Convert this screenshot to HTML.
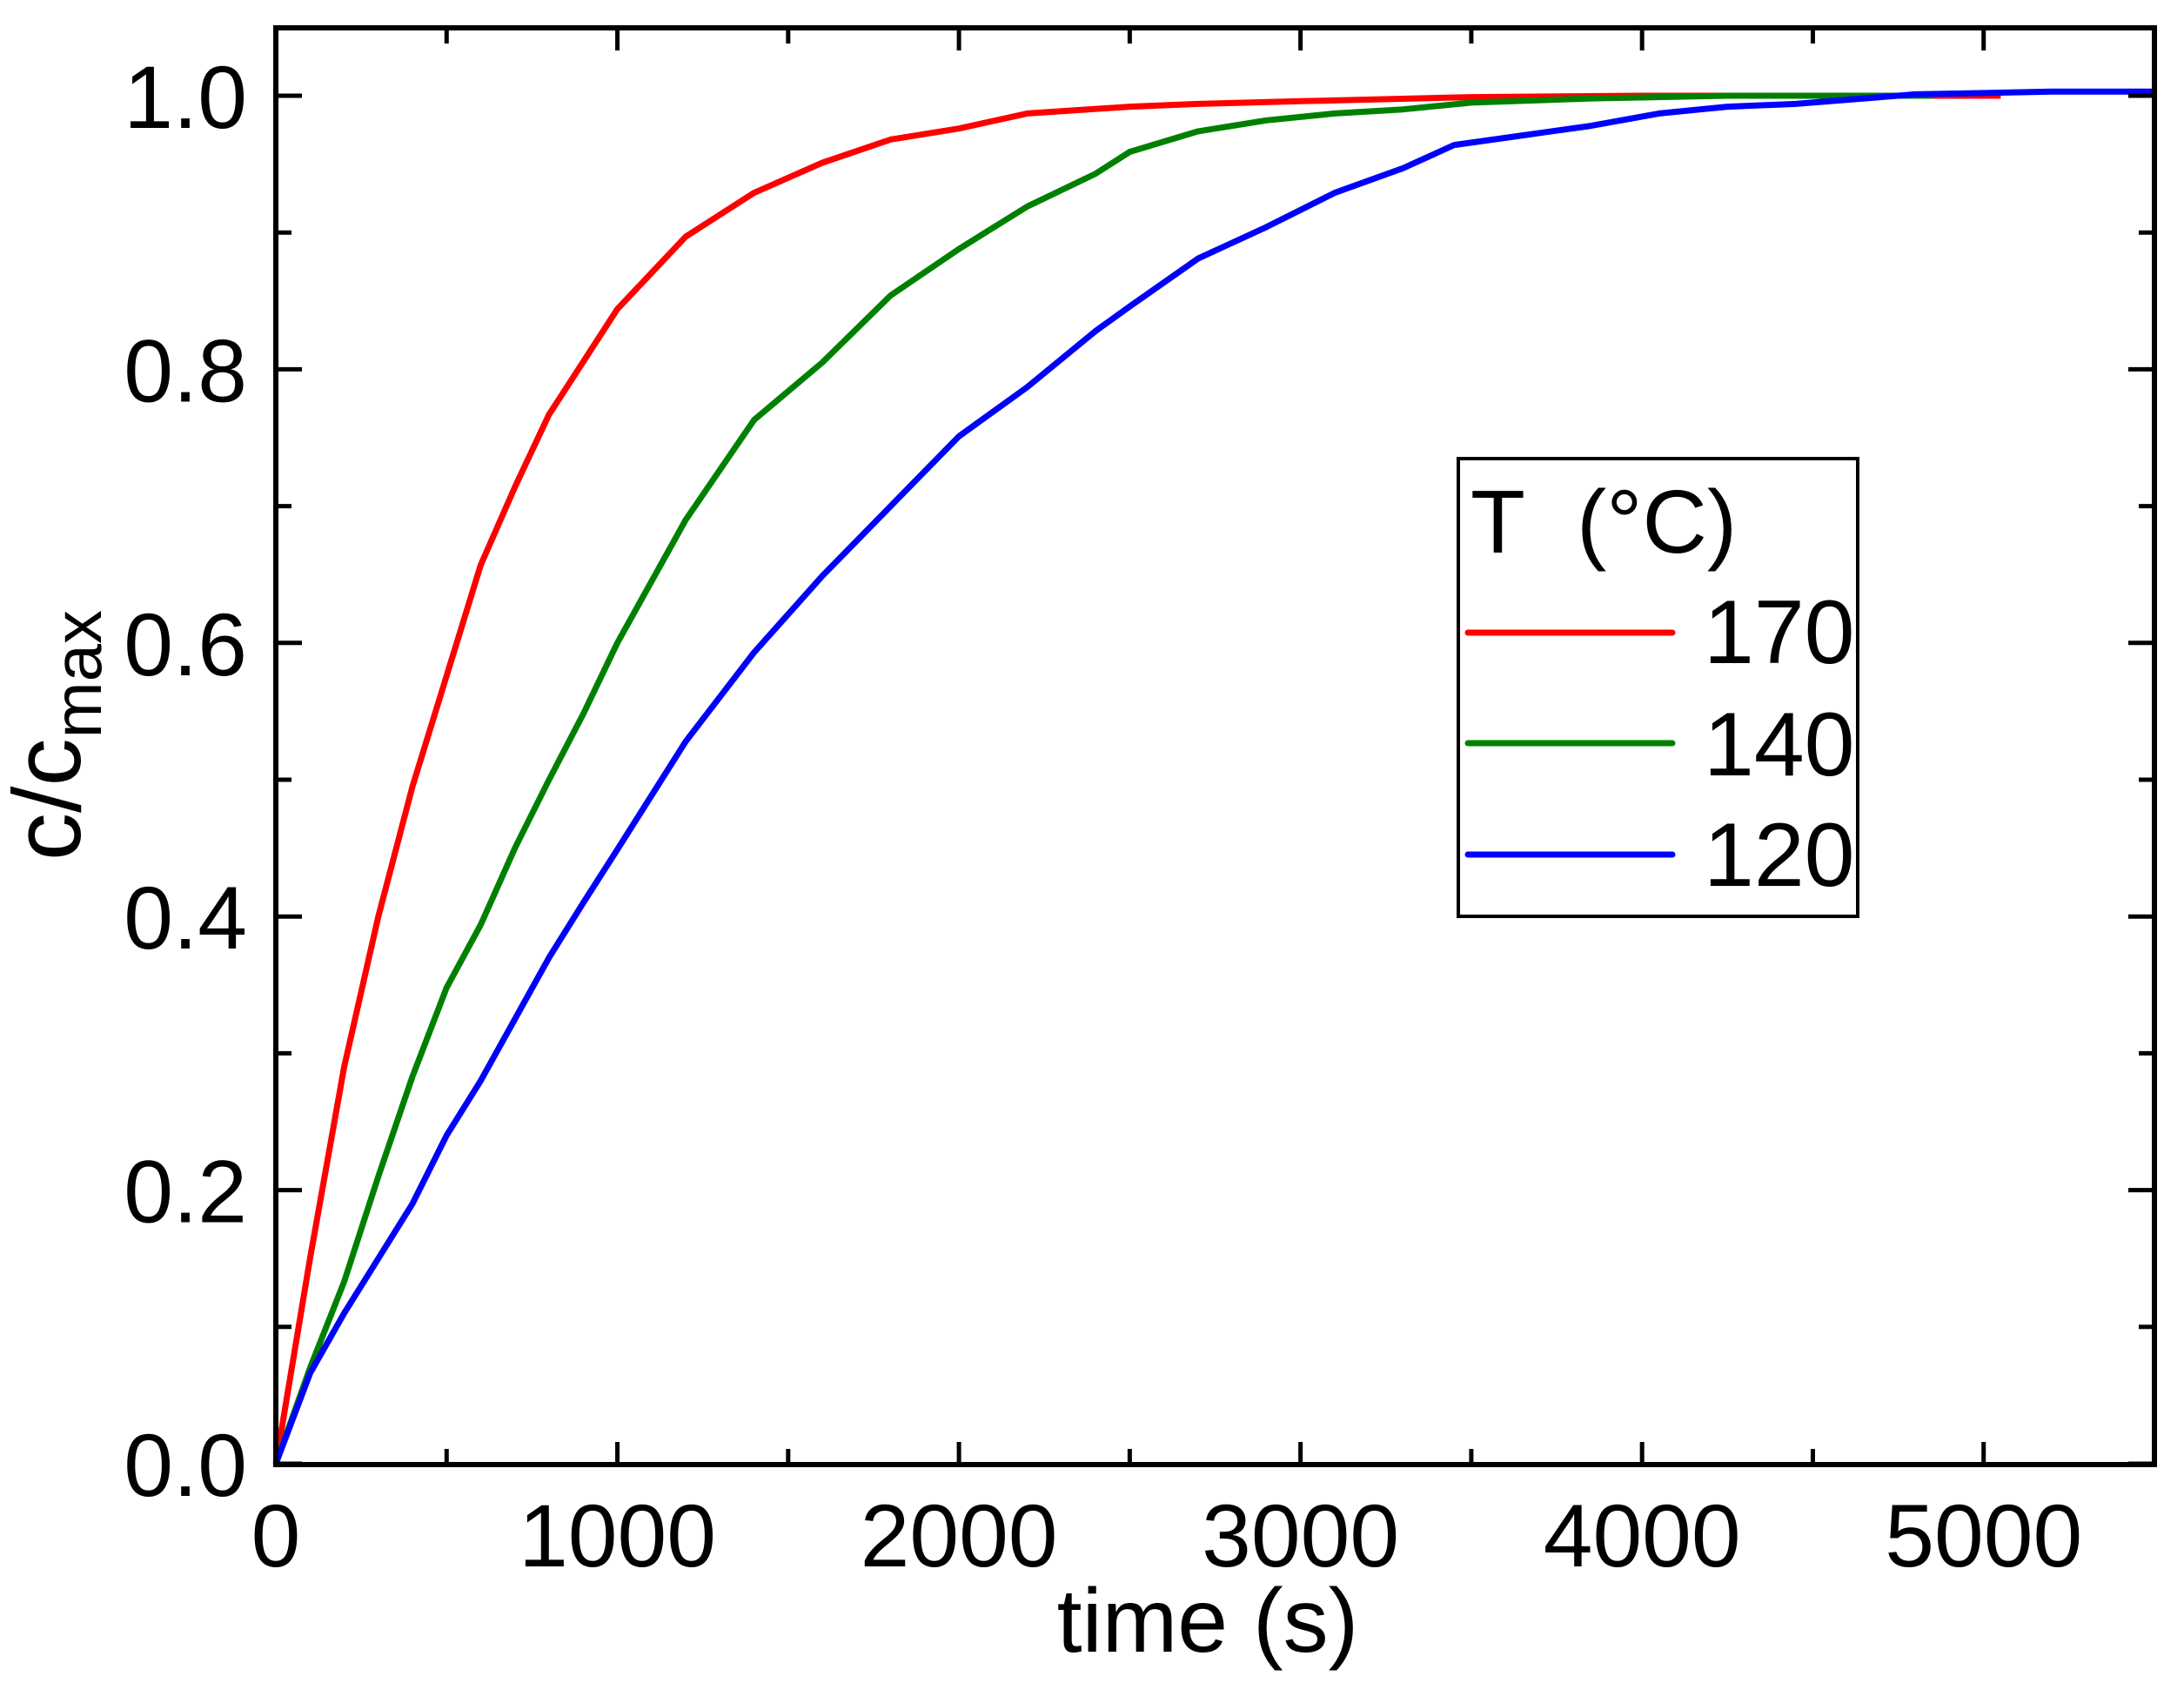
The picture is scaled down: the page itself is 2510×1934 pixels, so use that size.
<!DOCTYPE html>
<html><head><meta charset="utf-8"><style>
html,body{margin:0;padding:0;background:#fff}
svg{display:block}
text{font-family:"Liberation Sans",Arial,sans-serif;fill:#000}
</style></head><body>
<svg id="chart" width="2510" height="1934" viewBox="0 0 2510 1934" xmlns="http://www.w3.org/2000/svg">
<g id="marks"></g>
<g id="axes"></g>
<rect x="317" y="32" width="2159" height="1651" fill="none" stroke="#000" stroke-width="6"/>
<text x="1388" y="1898" font-size="104" text-anchor="middle">time (s)</text>
<text transform="translate(92,845) rotate(-90)" font-size="110" text-anchor="middle">c/c<tspan font-size="78" dy="24">max</tspan></text>
<g>
<rect x="1676" y="527" width="459" height="526" fill="#fff" stroke="#000" stroke-width="4"/>
<text x="1690" y="635" font-size="103">T</text>
<text x="1812" y="635" font-size="103">(°C)</text>
<line x1="1687" y1="727" x2="1922" y2="727" stroke="#ff0000" stroke-width="7" stroke-linecap="round"/>
<text x="1958" y="762" font-size="104">170</text>
<line x1="1687" y1="854" x2="1922" y2="854" stroke="#008000" stroke-width="7" stroke-linecap="round"/>
<text x="1958" y="891" font-size="104">140</text>
<line x1="1687" y1="982" x2="1922" y2="982" stroke="#0000ff" stroke-width="7" stroke-linecap="round"/>
<text x="1958" y="1018" font-size="104">120</text>
</g>
</svg>
<script>
const xTicks=[0,1000,2000,3000,4000,5000];
const xTickLabels=["0","1000","2000","3000","4000","5000"];
const yTicks=[0,0.2,0.4,0.6,0.8,1.0];
const yTickLabels=["0.0","0.2","0.4","0.6","0.8","1.0"];
const t170=[0,20,100,200,300,400,500,600,700,800,1000,1200,1400,1600,1800,2000,2200,2500,2700,3000,3500,4000,5050];
const c170=[0,0.03,0.15,0.29,0.40,0.495,0.576,0.657,0.714,0.767,0.844,0.897,0.929,0.951,0.968,0.976,0.987,0.992,0.994,0.996,0.999,1.0,1.0];
const t140=[0,100,200,300,400,500,600,700,800,900,1000,1100,1200,1400,1600,1800,2000,2200,2400,2500,2700,2900,3100,3300,3500,3850,4250,4850];
const c140=[0,0.07,0.133,0.21,0.283,0.348,0.394,0.45,0.5,0.548,0.6,0.645,0.69,0.763,0.805,0.854,0.888,0.919,0.943,0.959,0.974,0.982,0.987,0.99,0.995,0.998,1.0,1.0];
const t120=[0,100,200,300,400,500,600,800,900,1000,1200,1400,1600,1800,2000,2200,2400,2500,2700,2900,3100,3300,3450,3650,3850,4050,4250,4450,4800,5200,5500];
const c120=[0,0.066,0.11,0.15,0.19,0.24,0.28,0.37,0.41,0.449,0.528,0.593,0.649,0.70,0.751,0.787,0.828,0.846,0.881,0.904,0.929,0.947,0.964,0.971,0.978,0.987,0.992,0.994,1.001,1.003,1.003];
const X=v=>317+v*(2476-317)/5500;
const Y=v=>1682-v*1572;
const NS="http://www.w3.org/2000/svg";
const axes=document.getElementById('axes'), marks=document.getElementById('marks');
function mk(tag,attrs,parent){const e=document.createElementNS(NS,tag);for(const k in attrs)e.setAttribute(k,attrs[k]);parent.appendChild(e);return e;}
for(let v=0;v<=5500;v+=500){
  const len=(v%1000===0)?26:18;
  const a=mk('line',{x1:X(v),x2:X(v),y1:1683,y2:1683-len,stroke:'#000','stroke-width':5},axes);
  
  
  const b=mk('line',{x1:X(v),x2:X(v),y1:32,y2:32+len,stroke:'#000','stroke-width':5},axes);
  
  
}
for(let i=0;i<=10;i++){
  const v=i/10, len=(i%2===0)?30:18;
  const a=mk('line',{x1:317,x2:317+len,y1:Y(v),y2:Y(v),stroke:'#000','stroke-width':5},axes);
  
  
  const b=mk('line',{x1:2476,x2:2476-len,y1:Y(v),y2:Y(v),stroke:'#000','stroke-width':5},axes);
  
  
}
xTicks.forEach((v,i)=>{const t=mk('text',{x:X(v),y:1800,'font-size':102,'text-anchor':'middle'},axes);t.textContent=xTickLabels[i];
  
  });
yTicks.forEach((v,i)=>{const t=mk('text',{x:284,y:Y(v)+37,'font-size':102,'text-anchor':'end'},axes);t.textContent=yTickLabels[i];
  
  });
function series(ts,cs,color,name){
  const d=ts.map((t,i)=>(i?'L':'M')+X(t).toFixed(1)+','+Y(cs[i]).toFixed(1)).join('');
  const p=mk('path',{d:d,fill:'none',stroke:color,'stroke-width':7,'stroke-linejoin':'round'},marks);
  
  
}
series(t170,c170,'#ff0000','series-170');
series(t140,c140,'#008000','series-140');
series(t120,c120,'#0000ff','series-120');
</script>
</body></html>
